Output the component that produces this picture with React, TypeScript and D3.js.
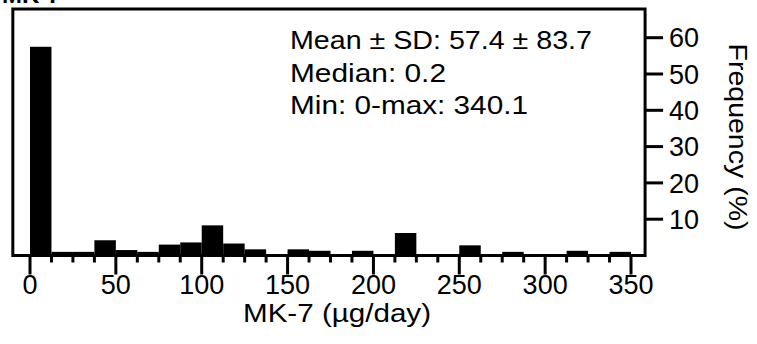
import React from "react";
import * as d3 from "d3";

// histogram of MK-7 intake, bins of 12.5 µg/day starting at 0
const binWidth = 12.5;
const frequencies = [
  57.5, 1.0, 1.0, 4.2, 1.5, 1.0, 3.0, 3.6, 8.3, 3.3, 1.7, 0, 1.7, 1.3,
  0, 1.3, 0, 6.2, 0, 0, 2.8, 0, 1.0, 0, 0, 1.3, 0, 1.0,
];
const xTicks = [0, 50, 100, 150, 200, 250, 300, 350];
const yTicks = [10, 20, 30, 40, 50, 60];
const statLines = ["Mean \u00b1 SD: 57.4 \u00b1 83.7", "Median:  0.2", "Min: 0-max: 340.1"];
const statWidths = [302, 156, 238];
const xTitle = "MK-7 (\u00b5g/day)";
const yTitle = "Frequency (%)";
const panelTitle = "MK-7";

const App = () => {
  const width = 757;
  const height = 344;
  const font = "'Liberation Sans', Arial, sans-serif";

  const x = d3.scaleLinear().domain([0, 350]).range([30, 631]);
  const y = d3.scaleLinear().domain([0, 60]).range([255.5, 37.7]);

  const left = x(-10);
  const right = x(358.2);
  const top = y(67.9);
  const bottom = y(0);

  const minorTicks = d3.range(0, 350 + 0.01, binWidth).filter((v) => v % 50 !== 0);

  return (
    <svg
      width={width}
      height={height}
      style={{ position: "absolute", left: 0, top: 0, background: "#fff" }}
      fontFamily={font}
    >
      {/* cut-off panel title at the top edge */}
      <text x={2} y={3} fontSize={24} fontWeight="bold">
        {panelTitle}
      </text>

      {/* bars */}
      {frequencies.map((f, i) =>
        f > 0 ? (
          <rect
            key={i}
            x={x(i * binWidth)}
            y={y(f)}
            width={x(binWidth) - x(0)}
            height={bottom - y(f)}
            fill="#000"
          />
        ) : null
      )}

      {/* frame */}
      <path
        d={`M${left},${bottom}V${top}H${right}V${bottom}Z`}
        fill="none"
        stroke="#000"
        strokeWidth={3}
      />

      {/* x ticks */}
      {minorTicks.map((t) => (
        <line key={"m" + t} x1={x(t)} x2={x(t)} y1={bottom} y2={bottom + 7} stroke="#000" strokeWidth={3} />
      ))}
      {xTicks.map((t) => (
        <g key={t}>
          <line x1={x(t)} x2={x(t)} y1={bottom} y2={bottom + 19} stroke="#000" strokeWidth={3} />
          <text x={x(t)} y={bottom + 38} fontSize={27} textAnchor="middle">
            {t}
          </text>
        </g>
      ))}
      <text x={337} y={322} fontSize={26} textAnchor="middle" textLength={188} lengthAdjust="spacingAndGlyphs">
        {xTitle}
      </text>

      {/* right y axis */}
      {yTicks.map((t) => (
        <g key={t}>
          <line x1={right} x2={right + 18} y1={y(t)} y2={y(t)} stroke="#000" strokeWidth={3} />
          <text x={right + 24} y={y(t)} dy="0.36em" fontSize={27}>
            {t}
          </text>
        </g>
      ))}
      <text
        transform={`translate(729,137) rotate(90)`}
        fontSize={26}
        textAnchor="middle"
        textLength={187}
        lengthAdjust="spacingAndGlyphs"
      >
        {yTitle}
      </text>

      {/* stats */}
      {statLines.map((s, i) => (
        <text
          key={i}
          x={290}
          y={49 + i * 32.5}
          fontSize={26}
          textLength={statWidths[i]}
          lengthAdjust="spacingAndGlyphs"
        >
          {s}
        </text>
      ))}
    </svg>
  );
};

export default App;
